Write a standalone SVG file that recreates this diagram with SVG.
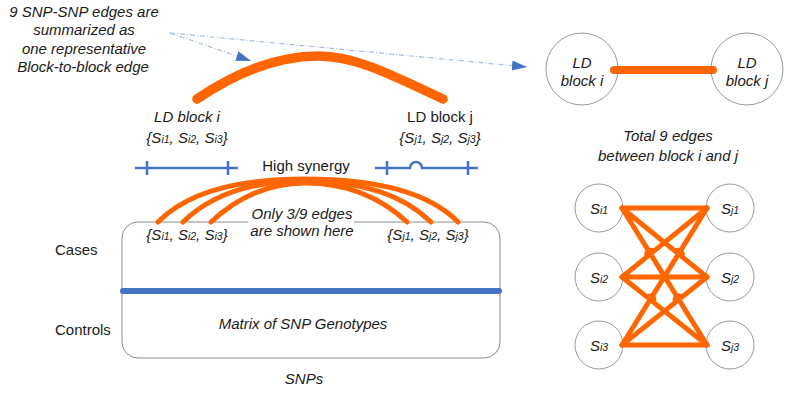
<svg xmlns="http://www.w3.org/2000/svg" width="789" height="393" viewBox="0 0 789 393">
<style>
.t{font-family:"Liberation Sans",Arial,sans-serif;font-size:15px;fill:#1a1a1a}
.it{font-style:italic}
.mid{text-anchor:middle}
.sub{font-size:10.5px}
.org{stroke:#FF6600;fill:none;stroke-linecap:round;stroke-linejoin:round}
.blu{stroke:#4472C4;fill:none;stroke-width:2.5}
.circ{fill:#fff;stroke:#9a9a9a;stroke-width:1}
.dash{stroke:#A9BDE3;stroke-width:1.2;fill:none;stroke-dasharray:5,2,1,2}
</style>
<defs>
<marker id="ah" markerUnits="userSpaceOnUse" markerWidth="16" markerHeight="12" refX="15" refY="5" orient="auto">
<path d="M0,0 L15,5 L0,10 Z" fill="#4472C4"/>
</marker>
</defs>

<g id="note-top">
<text class="t it mid" x="84" y="16.5">9 SNP-SNP edges are</text>
<text class="t it mid" x="84" y="35">summarized as</text>
<text class="t it mid" x="84" y="53.5">one representative</text>
<text class="t it mid" x="83" y="72">Block-to-block edge</text>
</g>

<g id="matrix">
<rect x="122" y="222" width="378" height="136" rx="16" ry="16" fill="none" stroke="#8c8c8c" stroke-width="1"/>
<rect x="248" y="204" width="106" height="36" fill="#fff"/>
<line x1="123" y1="291" x2="499" y2="291" stroke="#4472C4" stroke-width="6" stroke-linecap="round"/>
<text class="t it mid" x="303" y="329">Matrix of SNP Genotypes</text>
<text class="t it mid" x="304" y="384">SNPs</text>
<text class="t" x="55" y="255">Cases</text>
<text class="t" x="55" y="335">Controls</text>
<text class="t it mid" x="187" y="240">{S<tspan class="sub">i1</tspan>, S<tspan class="sub">i2</tspan>, S<tspan class="sub">i3</tspan>}</text>
<text class="t it mid" x="428" y="240">{S<tspan class="sub">j1</tspan>, S<tspan class="sub">j2</tspan>, S<tspan class="sub">j3</tspan>}</text>
<text class="t it mid" x="302" y="219">Only 3/9 edges</text>
<text class="t it mid" x="302" y="236">are shown here</text>
</g>

<g id="ld-block-i">
<text class="t it mid" x="187" y="122">LD block i</text>
<text class="t it mid" x="187" y="142.5">{S<tspan class="sub">i1</tspan>, S<tspan class="sub">i2</tspan>, S<tspan class="sub">i3</tspan>}</text>
<path class="blu" d="M135,168 H238 M147,161 V175 M228,161 V175"/>
</g>

<g id="ld-block-j">
<text class="t mid" x="440" y="122">LD block j</text>
<text class="t it mid" x="440" y="142.5">{S<tspan class="sub">j1</tspan>, S<tspan class="sub">j2</tspan>, S<tspan class="sub">j3</tspan>}</text>
<path class="blu" d="M375,168 H410 A6,6 0 0 1 422,168 H478 M387,161 V175 M468,161 V175"/>
</g>

<g id="high-synergy">
<text class="t mid" x="306" y="170.5">High synergy</text>
</g>

<g id="node-ld-i">
<circle class="circ" cx="582" cy="69" r="36"/>
<text class="t it mid" x="582" y="67.5">LD</text>
<text class="t it mid" x="582" y="86">block i</text>
</g>
<g id="node-ld-j">
<circle class="circ" cx="747" cy="69" r="36"/>
<text class="t it mid" x="747" y="67.5">LD</text>
<text class="t it mid" x="747" y="86">block j</text>
</g>

<g id="total-label">
<text class="t it mid" x="668" y="141">Total 9 edges</text>
<text class="t it mid" x="668" y="161">between block i and j</text>
</g>

<g id="node-si1"><circle class="circ" cx="599" cy="208" r="24"/><text class="t it mid" x="599" y="213.5">S<tspan class="sub">i1</tspan></text></g>
<g id="node-si2"><circle class="circ" cx="599" cy="277" r="24"/><text class="t it mid" x="599" y="282.5">S<tspan class="sub">i2</tspan></text></g>
<g id="node-si3"><circle class="circ" cx="599" cy="345" r="24"/><text class="t it mid" x="599" y="350.5">S<tspan class="sub">i3</tspan></text></g>
<g id="node-sj1"><circle class="circ" cx="730" cy="208" r="24"/><text class="t it mid" x="730" y="213.5">S<tspan class="sub">j1</tspan></text></g>
<g id="node-sj2"><circle class="circ" cx="730" cy="277" r="24"/><text class="t it mid" x="730" y="282.5">S<tspan class="sub">j2</tspan></text></g>
<g id="node-sj3"><circle class="circ" cx="730" cy="345" r="24"/><text class="t it mid" x="730" y="350.5">S<tspan class="sub">j3</tspan></text></g>

<g id="connectors">
<path class="dash" d="M170,33 L251,61" marker-end="url(#ah)"/>
<path class="dash" d="M170,33 L527,67" marker-end="url(#ah)"/>
<path class="org" stroke-width="9.5" d="M197,99 C240,70 280,56 318,56 C352,56 382,70 443,99"/>
<path class="org" stroke-width="5" d="M158,222 Q200,179 305,179 Q416,179 458,222"/>
<path class="org" stroke-width="5" d="M183,222 Q225,181 305,181 Q389,181 431,222"/>
<path class="org" stroke-width="5" d="M211,222 Q253,183 305,183 Q365,183 407,222"/>
<line class="org" stroke-width="8" x1="614" y1="70" x2="713" y2="70"/>
<g class="org" stroke-width="5">
<path d="M622,208 H707"/>
<path d="M622,277 H707"/>
<path d="M622,345 H707"/>
<path d="M622,208 L675.4,251.4 A4,4 0 0 1 681.6,256.4 L707,277"/>
<path d="M622,208 L707,345"/>
<path d="M622,277 L647.4,256.4 A4,4 0 0 1 653.6,251.4 L707,208"/>
<path d="M622,277 L647.1,297.1 A4,4 0 0 1 653.3,302.1 L707,345"/>
<path d="M622,345 L707,208"/>
<path d="M622,345 L675.7,302.1 A4,4 0 0 1 681.9,297.1 L707,277"/>
</g>
</g>
</svg>
